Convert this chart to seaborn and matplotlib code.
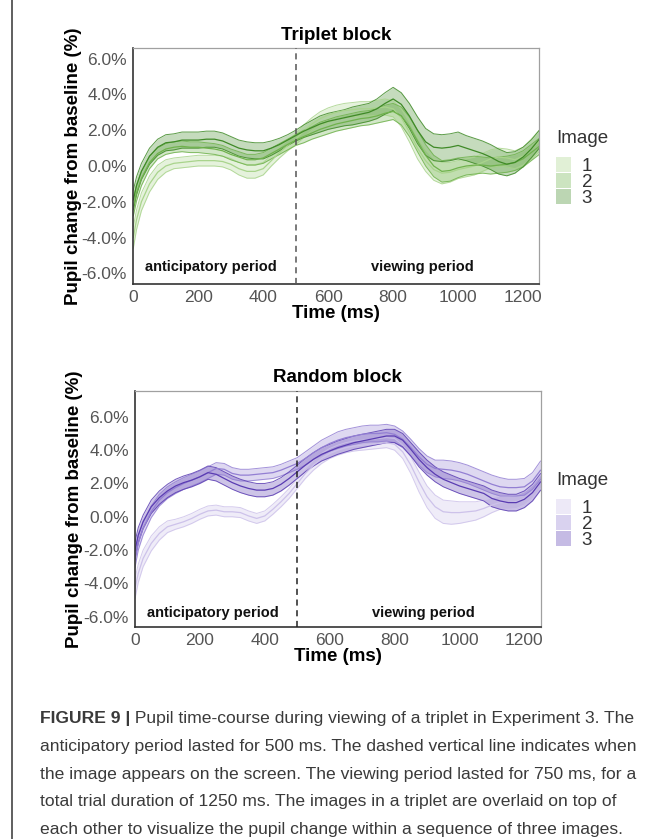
import numpy as np
import pandas as pd
import seaborn as sns
import matplotlib.pyplot as plt
from matplotlib.patches import Patch
from matplotlib.lines import Line2D

# time points (ms)
times = [0, 10, 25, 50, 75, 100, 125, 150, 175, 200, 225, 250, 275, 300, 325, 350, 375, 400, 425, 450, 475, 500,
         525, 550, 575, 600, 625, 650, 675, 700, 725, 750, 775, 800, 825, 850, 875, 900, 925, 950, 975, 1000,
         1025, 1050, 1075, 1100, 1125, 1150, 1175, 1200, 1225, 1250]

images = ['1', '2', '3']

# Triplet block: mean pupil change (%) per image
triplet_1 = [-4.0, -3.0, -2.0, -1.0, -0.35, 0.0, 0.15, 0.2, 0.25, 0.3, 0.3, 0.3, 0.25, 0.1, -0.15, -0.3, -0.3, -0.15, 0.3, 0.75, 1.15, 1.5,
             1.95, 2.35, 2.65, 2.85, 3.0, 3.1, 3.15, 3.2, 3.2, 3.25, 3.3, 3.2, 2.7, 1.9, 1.0, 0.3, -0.2, -0.4, -0.35, -0.2,
             -0.1, 0.0, 0.2, 0.4, 0.5, 0.45, 0.35, 0.55, 0.95, 1.4]
triplet_2 = [-2.3, -1.5, -0.7, 0.2, 0.7, 0.95, 1.05, 1.1, 1.05, 1.05, 1.0, 0.95, 0.85, 0.65, 0.5, 0.35, 0.35, 0.45, 0.7, 0.95, 1.2, 1.45,
             1.65, 1.85, 2.05, 2.2, 2.35, 2.45, 2.55, 2.65, 2.7, 2.8, 2.95, 3.05, 2.8, 2.2, 1.4, 0.6, 0.0, -0.3, -0.25, -0.1,
             0.0, 0.05, 0.05, 0.0, 0.05, 0.1, 0.2, 0.4, 0.75, 1.1]
triplet_3 = [-1.9, -1.1, -0.3, 0.55, 1.05, 1.3, 1.35, 1.45, 1.45, 1.45, 1.5, 1.5, 1.4, 1.2, 1.0, 0.9, 0.85, 0.85, 1.0, 1.2, 1.45, 1.7,
             1.95, 2.15, 2.35, 2.5, 2.6, 2.7, 2.8, 2.9, 3.0, 3.2, 3.5, 3.75, 3.45, 2.8, 2.0, 1.35, 1.05, 1.0, 1.05, 1.15,
             1.0, 0.85, 0.7, 0.5, 0.25, 0.1, 0.2, 0.5, 0.95, 1.5]

# Triplet block: ribbon half-widths
triplet_hw_1 = [0.6, 0.55, 0.5, 0.45, 0.4, 0.35, 0.3, 0.3, 0.3, 0.3, 0.3, 0.3, 0.3, 0.32, 0.35, 0.38, 0.38, 0.35, 0.3, 0.3, 0.3, 0.3,
                0.35, 0.35, 0.38, 0.4, 0.4, 0.4, 0.4, 0.4, 0.4, 0.42, 0.45, 0.45, 0.5, 0.55, 0.6, 0.6, 0.6, 0.6, 0.55, 0.5,
                0.5, 0.5, 0.5, 0.5, 0.5, 0.5, 0.5, 0.5, 0.55, 0.6]
triplet_hw_2 = [0.5, 0.45, 0.4, 0.35, 0.3, 0.3, 0.3, 0.3, 0.3, 0.3, 0.3, 0.3, 0.3, 0.3, 0.3, 0.3, 0.3, 0.3, 0.3, 0.3, 0.3, 0.3,
                0.35, 0.35, 0.4, 0.4, 0.4, 0.4, 0.4, 0.4, 0.4, 0.4, 0.45, 0.45, 0.5, 0.55, 0.6, 0.6, 0.6, 0.6, 0.6, 0.55,
                0.5, 0.5, 0.45, 0.45, 0.45, 0.45, 0.45, 0.45, 0.45, 0.45]
triplet_hw_3 = [0.55, 0.5, 0.45, 0.45, 0.45, 0.45, 0.45, 0.45, 0.45, 0.45, 0.45, 0.45, 0.45, 0.45, 0.45, 0.45, 0.45, 0.45, 0.4, 0.35, 0.3, 0.3,
                0.35, 0.4, 0.45, 0.45, 0.45, 0.45, 0.5, 0.5, 0.5, 0.55, 0.6, 0.65, 0.65, 0.7, 0.75, 0.75, 0.75, 0.75, 0.75, 0.75,
                0.7, 0.7, 0.7, 0.7, 0.7, 0.65, 0.6, 0.55, 0.5, 0.5]

# Random block: mean pupil change (%) per image
random_1 = [-4.3, -3.4, -2.5, -1.6, -1.0, -0.6, -0.45, -0.3, -0.1, 0.15, 0.35, 0.4, 0.3, 0.3, 0.25, 0.05, -0.1, 0.05, 0.45, 0.9, 1.4, 2.0,
            2.6, 3.1, 3.5, 3.8, 4.0, 4.15, 4.25, 4.3, 4.35, 4.4, 4.45, 4.35, 3.9, 3.1, 2.1, 1.2, 0.6, 0.3, 0.25, 0.25,
            0.3, 0.35, 0.5, 0.7, 0.85, 0.85, 0.9, 1.1, 1.5, 2.1]
random_2 = [-2.6, -1.6, -0.7, 0.3, 1.0, 1.45, 1.75, 2.0, 2.2, 2.4, 2.65, 2.9, 2.85, 2.6, 2.5, 2.5, 2.55, 2.6, 2.65, 2.8, 3.0, 3.2,
            3.5, 3.85, 4.15, 4.4, 4.6, 4.75, 4.85, 4.95, 5.0, 5.0, 5.05, 4.95, 4.65, 4.15, 3.6, 3.15, 2.9, 2.85, 2.8, 2.7,
            2.55, 2.35, 2.15, 1.95, 1.8, 1.75, 1.75, 1.8, 2.15, 2.8]
random_3 = [-2.0, -1.1, -0.3, 0.6, 1.15, 1.55, 1.85, 2.05, 2.2, 2.4, 2.65, 2.55, 2.3, 2.05, 1.85, 1.7, 1.6, 1.6, 1.7, 1.95, 2.3, 2.7,
            3.1, 3.45, 3.75, 3.95, 4.15, 4.3, 4.45, 4.55, 4.65, 4.75, 4.85, 4.85, 4.6, 4.05, 3.45, 2.95, 2.55, 2.25, 2.05, 1.85,
            1.7, 1.55, 1.4, 1.1, 0.95, 0.85, 0.85, 1.05, 1.45, 2.1]

# Random block: ribbon half-widths
random_hw_1 = [0.6, 0.55, 0.5, 0.45, 0.4, 0.35, 0.3, 0.3, 0.3, 0.3, 0.3, 0.3, 0.3, 0.3, 0.3, 0.3, 0.3, 0.3, 0.3, 0.3, 0.3, 0.3,
               0.3, 0.3, 0.3, 0.3, 0.3, 0.3, 0.3, 0.3, 0.3, 0.3, 0.3, 0.35, 0.4, 0.5, 0.6, 0.65, 0.7, 0.7, 0.7, 0.65,
               0.6, 0.55, 0.5, 0.45, 0.4, 0.4, 0.4, 0.4, 0.4, 0.4]
random_hw_2 = [0.45, 0.4, 0.4, 0.35, 0.35, 0.35, 0.35, 0.35, 0.35, 0.35, 0.35, 0.35, 0.35, 0.35, 0.35, 0.35, 0.35, 0.35, 0.35, 0.35, 0.35, 0.35,
               0.4, 0.4, 0.45, 0.45, 0.5, 0.5, 0.5, 0.5, 0.5, 0.5, 0.5, 0.5, 0.5, 0.5, 0.5, 0.5, 0.5, 0.55, 0.55, 0.55,
               0.55, 0.55, 0.55, 0.55, 0.55, 0.5, 0.5, 0.5, 0.5, 0.55]
random_hw_3 = [0.5, 0.45, 0.4, 0.4, 0.4, 0.4, 0.4, 0.4, 0.4, 0.4, 0.4, 0.4, 0.4, 0.4, 0.4, 0.4, 0.4, 0.4, 0.4, 0.4, 0.4, 0.4,
               0.4, 0.4, 0.4, 0.4, 0.4, 0.4, 0.4, 0.4, 0.4, 0.4, 0.4, 0.4, 0.4, 0.4, 0.45, 0.45, 0.45, 0.45, 0.45, 0.45,
               0.45, 0.45, 0.45, 0.5, 0.5, 0.5, 0.5, 0.5, 0.5, 0.5]

x_ticks = [0, 200, 400, 600, 800, 1000, 1200]
y_ticks = [-6, -4, -2, 0, 2, 4, 6]

green = {'1': '#a9d48c', '2': '#6fb24c', '3': '#3f8a27'}
purple = {'1': '#cdc2ea', '2': '#937fd3', '3': '#5a3cb2'}

caption = [
    "anticipatory period lasted for 500 ms. The dashed vertical line indicates when",
    "the image appears on the screen. The viewing period lasted for 750 ms, for a",
    "total trial duration of 1250 ms. The images in a triplet are overlaid on top of",
    "each other to visualize the pupil change within a sequence of three images.",
]

sns.set_theme(style='white')
plt.rcParams['font.family'] = ['Liberation Sans', 'DejaVu Sans']

W, H = 668, 839
fig = plt.figure(figsize=(W / 100, H / 100), dpi=100)


def make_df(means, widths):
    rows = []
    for img, m, w in zip(images, means, widths):
        m = np.array(m)
        w = np.array(w)
        rows.append(pd.DataFrame({'time': times, 'change': m, 'lo': m - w, 'hi': m + w, 'Image': img}))
    return pd.concat(rows, ignore_index=True)


def draw_panel(rect, df, pal, title, ylim, text_y, dash_color, leg_top):
    ax = fig.add_axes(rect)
    for img in images:
        d = df[df['Image'] == img]
        ax.fill_between(d['time'], d['lo'], d['hi'], color=pal[img], alpha=0.3, lw=0)
        ax.plot(d['time'], d['lo'], color=pal[img], lw=0.7, alpha=0.85)
        ax.plot(d['time'], d['hi'], color=pal[img], lw=0.7, alpha=0.85)
    sns.lineplot(data=df, x='time', y='change', hue='Image', palette=pal, estimator=None,
                 linewidth=0.9, legend=False, ax=ax)
    ax.axvline(500, color=dash_color, ls=(0, (4, 3)), lw=1.1, zorder=5)

    ax.set_xlim(0, 1250)
    ax.set_ylim(*ylim)
    ax.set_xticks(x_ticks)
    ax.set_yticks(y_ticks)
    ax.set_yticklabels([f'{v:.1f}%' for v in y_ticks])
    ax.tick_params(axis='both', labelsize=12.5, labelcolor='#555555', length=3, width=0.8,
                   color='#444444', direction='out', pad=1.5)
    for s in ['left', 'bottom']:
        ax.spines[s].set_color('#333333')
        ax.spines[s].set_linewidth(1.2)
    for s in ['top', 'right']:
        ax.spines[s].set_color('#a0a0a0')
        ax.spines[s].set_linewidth(0.9)

    ax.set_xlabel('Time (ms)', fontsize=13.5, fontweight='bold', color='black')
    ax.set_ylabel('Pupil change from baseline (%)', fontsize=13.5, fontweight='bold', color='black')
    ax.xaxis.set_label_coords(0.5, -0.09)
    ax.yaxis.set_label_coords(-0.127, 0.5)
    ax.text(0.5, 1.055, title, transform=ax.transAxes, ha='center', va='center',
            fontsize=13.5, fontweight='bold', color='black')

    ax.text(240, text_y, 'anticipatory period', ha='center', va='center', fontsize=10.5, fontweight='bold', color='#111111')
    ax.text(890, text_y, 'viewing period', ha='center', va='center', fontsize=10.5, fontweight='bold', color='#111111')

    handles = [Patch(facecolor=pal[i], alpha=0.35, edgecolor='none') for i in images]
    leg = ax.legend(handles, images, title='Image', loc='upper left',
                    bbox_to_anchor=(556 / W, 1 - leg_top / H), bbox_transform=fig.transFigure,
                    frameon=False, fontsize=13.5, title_fontsize=13.5, handlelength=0.82, handleheight=0.9,
                    labelspacing=-0.12, handletextpad=0.55, borderpad=0, borderaxespad=0, alignment='left')
    # gap between the legend title and its entries
    leg._legend_box.sep = 7
    for t in leg.get_texts():
        t.set_color('#333333')
    leg.get_title().set_color('#333333')
    return ax


triplet_df = make_df([triplet_1, triplet_2, triplet_3], [triplet_hw_1, triplet_hw_2, triplet_hw_3])
random_df = make_df([random_1, random_2, random_3], [random_hw_1, random_hw_2, random_hw_3])

draw_panel([133.3 / W, 1 - 284 / H, 406 / W, 236 / H], triplet_df, green, 'Triplet block',
           (-6.6, 6.6), -5.64, '#555555', 130)
draw_panel([135 / W, 1 - 627 / H, 405.6 / W, 236.3 / H], random_df, purple, 'Random block',
           (-6.62, 7.57), -5.8, '#222222', 472)

# caption below the figure
cap_kw = dict(fontsize=12.6, color='#3a3a3a', va='center', ha='left')
first = fig.text(40 / W, 1 - 719 / H, 'FIGURE 9 |', fontweight='bold', **cap_kw)
fig.axes[-1].annotate(' Pupil time-course during viewing of a triplet in Experiment 3. The',
                      xy=(1, 0.5), xycoords=first, annotation_clip=False, **cap_kw)
for i, line in enumerate(caption):
    fig.text(40 / W, 1 - (746.5 + 27.7 * i) / H, line, **cap_kw)

# frame line on the left edge of the figure
fig.add_artist(Line2D([12 / W, 12 / W], [0, 1], transform=fig.transFigure, color='#444444', lw=1.2))

fig.savefig('out.png', dpi=100)
